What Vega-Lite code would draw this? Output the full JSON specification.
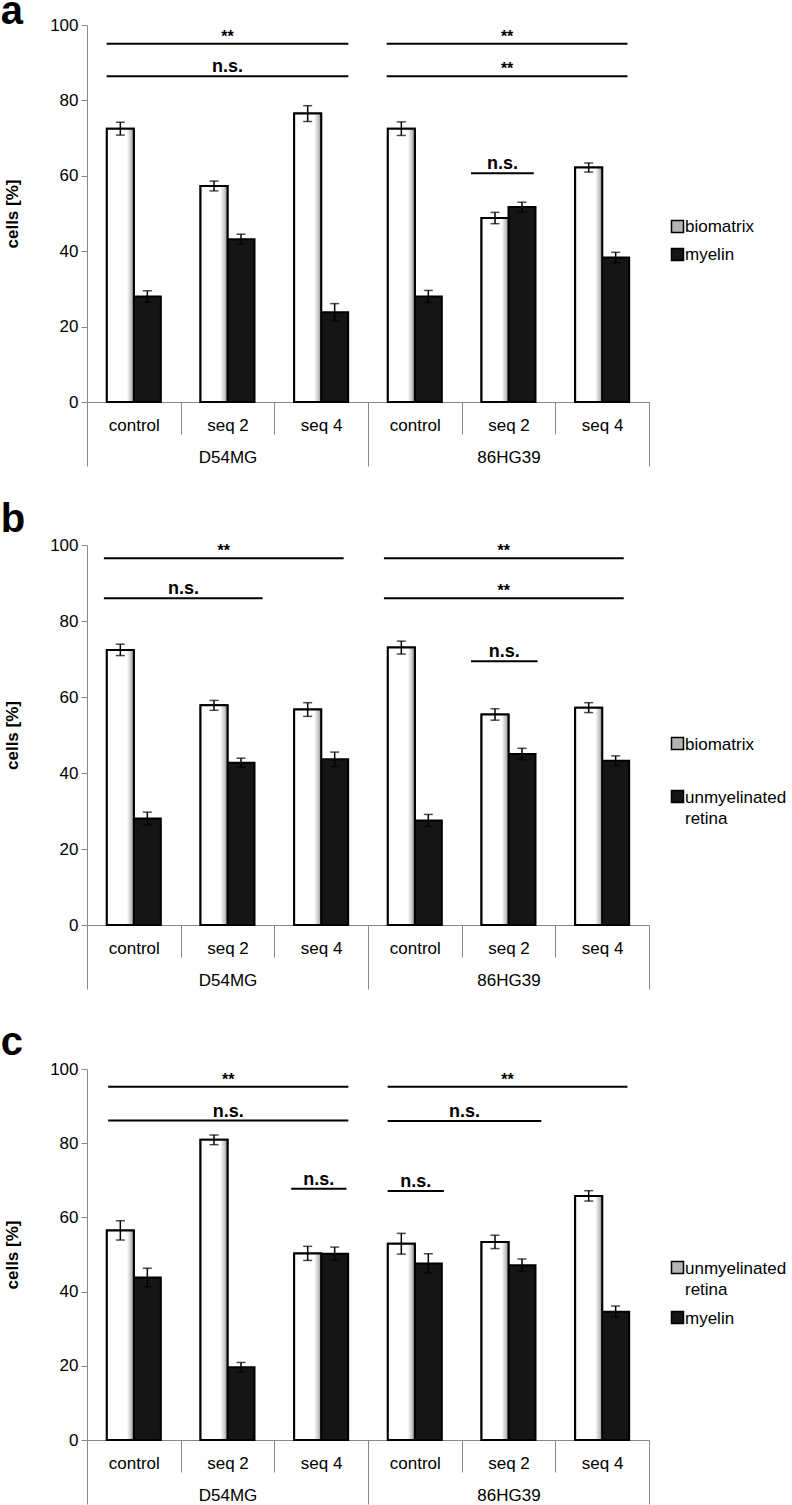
{
  "$schema": "https://vega.github.io/schema/vega-lite/v6.json",
  "padding": {"left": 0, "top": -8, "right": 0, "bottom": 0},
  "spacing": 33,
  "datasets": {
    "barsA": [
      {"cat": "D54MG|control", "series": "biomatrix", "value": 72.5, "lo": 70.8, "hi": 74.2},
      {"cat": "D54MG|control", "series": "myelin", "value": 28.0, "lo": 26.5, "hi": 29.5},
      {"cat": "D54MG|seq 2", "series": "biomatrix", "value": 57.3, "lo": 56.0, "hi": 58.6},
      {"cat": "D54MG|seq 2", "series": "myelin", "value": 43.2, "lo": 41.9, "hi": 44.5},
      {"cat": "D54MG|seq 4", "series": "biomatrix", "value": 76.5, "lo": 74.4, "hi": 78.6},
      {"cat": "D54MG|seq 4", "series": "myelin", "value": 23.8, "lo": 21.5, "hi": 26.1},
      {"cat": "86HG39|control", "series": "biomatrix", "value": 72.5, "lo": 70.7, "hi": 74.3},
      {"cat": "86HG39|control", "series": "myelin", "value": 28.0, "lo": 26.4, "hi": 29.6},
      {"cat": "86HG39|seq 2", "series": "biomatrix", "value": 48.8, "lo": 47.3, "hi": 50.3},
      {"cat": "86HG39|seq 2", "series": "myelin", "value": 51.7, "lo": 50.4, "hi": 53.0},
      {"cat": "86HG39|seq 4", "series": "biomatrix", "value": 62.2, "lo": 61.0, "hi": 63.4},
      {"cat": "86HG39|seq 4", "series": "myelin", "value": 38.3, "lo": 36.9, "hi": 39.7}
    ],
    "barsB": [
      {"cat": "D54MG|control", "series": "biomatrix", "value": 72.4, "lo": 70.9, "hi": 73.9},
      {"cat": "D54MG|control", "series": "unmyelinated retina", "value": 28.0, "lo": 26.3, "hi": 29.7},
      {"cat": "D54MG|seq 2", "series": "biomatrix", "value": 57.8, "lo": 56.5, "hi": 59.1},
      {"cat": "D54MG|seq 2", "series": "unmyelinated retina", "value": 42.7, "lo": 41.5, "hi": 43.9},
      {"cat": "D54MG|seq 4", "series": "biomatrix", "value": 56.7, "lo": 54.9, "hi": 58.5},
      {"cat": "D54MG|seq 4", "series": "unmyelinated retina", "value": 43.6, "lo": 41.7, "hi": 45.5},
      {"cat": "86HG39|control", "series": "biomatrix", "value": 73.0, "lo": 71.3, "hi": 74.7},
      {"cat": "86HG39|control", "series": "unmyelinated retina", "value": 27.5, "lo": 25.9, "hi": 29.1},
      {"cat": "86HG39|seq 2", "series": "biomatrix", "value": 55.4, "lo": 53.9, "hi": 56.9},
      {"cat": "86HG39|seq 2", "series": "unmyelinated retina", "value": 45.0, "lo": 43.5, "hi": 46.5},
      {"cat": "86HG39|seq 4", "series": "biomatrix", "value": 57.2, "lo": 55.9, "hi": 58.5},
      {"cat": "86HG39|seq 4", "series": "unmyelinated retina", "value": 43.2, "lo": 41.9, "hi": 44.5}
    ],
    "barsC": [
      {"cat": "D54MG|control", "series": "unmyelinated retina", "value": 56.5, "lo": 53.9, "hi": 59.1},
      {"cat": "D54MG|control", "series": "myelin", "value": 43.8, "lo": 41.3, "hi": 46.3},
      {"cat": "D54MG|seq 2", "series": "unmyelinated retina", "value": 80.9, "lo": 79.6, "hi": 82.2},
      {"cat": "D54MG|seq 2", "series": "myelin", "value": 19.6, "lo": 18.3, "hi": 20.9},
      {"cat": "D54MG|seq 4", "series": "unmyelinated retina", "value": 50.3, "lo": 48.4, "hi": 52.2},
      {"cat": "D54MG|seq 4", "series": "myelin", "value": 50.2, "lo": 48.4, "hi": 52.0},
      {"cat": "86HG39|control", "series": "unmyelinated retina", "value": 52.9, "lo": 50.1, "hi": 55.7},
      {"cat": "86HG39|control", "series": "myelin", "value": 47.6, "lo": 45.0, "hi": 50.2},
      {"cat": "86HG39|seq 2", "series": "unmyelinated retina", "value": 53.4, "lo": 51.6, "hi": 55.2},
      {"cat": "86HG39|seq 2", "series": "myelin", "value": 47.1, "lo": 45.4, "hi": 48.8},
      {"cat": "86HG39|seq 4", "series": "unmyelinated retina", "value": 65.8, "lo": 64.4, "hi": 67.2},
      {"cat": "86HG39|seq 4", "series": "myelin", "value": 34.6, "lo": 33.1, "hi": 36.1}
    ],
    "annA": [
      {"x1": 0.21, "x2": 2.79, "xm": 1.5, "y": 95.0, "label": "**"},
      {"x1": 0.21, "x2": 2.79, "xm": 1.5, "y": 86.4, "label": "n.s."},
      {"x1": 3.2, "x2": 5.77, "xm": 4.485, "y": 95.0, "label": "**"},
      {"x1": 3.2, "x2": 5.77, "xm": 4.485, "y": 86.4, "label": "**"},
      {"x1": 4.1, "x2": 4.77, "xm": 4.435, "y": 60.7, "label": "n.s."}
    ],
    "annB": [
      {"x1": 0.18, "x2": 2.74, "xm": 1.46, "y": 96.5, "label": "**"},
      {"x1": 0.18, "x2": 1.875, "xm": 1.03, "y": 86.0, "label": "n.s."},
      {"x1": 3.17, "x2": 5.73, "xm": 4.45, "y": 96.5, "label": "**"},
      {"x1": 3.17, "x2": 5.73, "xm": 4.45, "y": 86.0, "label": "**"},
      {"x1": 4.1, "x2": 4.81, "xm": 4.455, "y": 69.4, "label": "n.s."}
    ],
    "annC": [
      {"x1": 0.226, "x2": 2.79, "xm": 1.508, "y": 95.2, "label": "**"},
      {"x1": 0.226, "x2": 2.79, "xm": 1.508, "y": 86.1, "label": "n.s."},
      {"x1": 2.18, "x2": 2.77, "xm": 2.475, "y": 67.7, "label": "n.s."},
      {"x1": 3.21, "x2": 5.77, "xm": 4.49, "y": 95.2, "label": "**"},
      {"x1": 3.21, "x2": 4.85, "xm": 4.03, "y": 86.0, "label": "n.s."},
      {"x1": 3.21, "x2": 3.81, "xm": 3.51, "y": 67.1, "label": "n.s."}
    ],
    "groups": [
      {"group": "D54MG"},
      {"group": "86HG39"}
    ]
  },
  "vconcat": [
    {
      "title": {"text": "a", "anchor": "start", "frame": "bounds", "fontSize": 40, "fontWeight": "bold", "color": "black", "offset": -16, "dx": -3},
      "width": 562,
      "height": 377,
      "layer": [
        {
          "data": {"name": "barsA"},
          "mark": {"type": "bar", "stroke": "black", "strokeWidth": 2},
          "encoding": {
            "x": {"field": "cat", "type": "nominal", "title": null, "scale": {"domain": ["D54MG|control", "D54MG|seq 2", "D54MG|seq 4", "86HG39|control", "86HG39|seq 2", "86HG39|seq 4"], "paddingInner": 0, "paddingOuter": 0}, "axis": {"orient": "bottom", "labelExpr": "split(datum.label, '|')[1]", "tickBand": "extent", "tickSize": 32, "labelPadding": -17}},
            "xOffset": {"field": "series", "type": "nominal", "scale": {"domain": ["biomatrix", "myelin"], "paddingInner": 0, "paddingOuter": 0.735}},
            "y": {"field": "value", "type": "quantitative", "title": "cells [%]", "scale": {"domain": [0, 100], "nice": false}, "axis": {"orient": "left", "values": [0, 10, 20, 30, 40, 50, 60, 70, 80, 90, 100], "tickCount": 10, "labelOverlap": false}},
            "fill": {"field": "series", "type": "nominal", "scale": {"domain": ["biomatrix", "myelin"], "range": ["#b4b4b4", "#151515"]}, "legend": {"title": null, "orient": "none", "legendX": 582, "legendY": 193, "rowPadding": 9, "labelBaseline": "middle"}}
          }
        },
        {
          "data": {"name": "barsA"},
          "transform": [{"filter": "datum.series === 'biomatrix'"}],
          "mark": {"type": "bar", "stroke": "black", "strokeWidth": 2, "fill": {"gradient": "linear", "x1": 0, "y1": 0, "x2": 1, "y2": 0, "stops": [{"offset": 0, "color": "#ffffff"}, {"offset": 0.74, "color": "#ffffff"}, {"offset": 0.9, "color": "#c4c4c4"}, {"offset": 1, "color": "#8a8a8a"}]}},
          "encoding": {
            "x": {"field": "cat", "type": "nominal", "scale": {"domain": ["D54MG|control", "D54MG|seq 2", "D54MG|seq 4", "86HG39|control", "86HG39|seq 2", "86HG39|seq 4"], "paddingInner": 0, "paddingOuter": 0}, "axis": null},
            "xOffset": {"field": "series", "type": "nominal", "scale": {"domain": ["biomatrix", "myelin"], "paddingInner": 0, "paddingOuter": 0.735}},
            "y": {"field": "value", "type": "quantitative", "axis": null}
          }
        },
        {
          "data": {"name": "barsA"},
          "mark": {"type": "rule", "color": "black", "strokeWidth": 1.5},
          "encoding": {
            "x": {"field": "cat", "type": "nominal", "scale": {"domain": ["D54MG|control", "D54MG|seq 2", "D54MG|seq 4", "86HG39|control", "86HG39|seq 2", "86HG39|seq 4"], "paddingInner": 0, "paddingOuter": 0}, "axis": null},
            "xOffset": {"field": "series", "type": "nominal", "scale": {"domain": ["biomatrix", "myelin"], "paddingInner": 0, "paddingOuter": 0.735}},
            "y": {"field": "lo", "type": "quantitative", "axis": null},
            "y2": {"field": "hi"}
          }
        },
        {
          "data": {"name": "barsA"},
          "mark": {"type": "tick", "color": "black", "thickness": 1.5, "size": 9, "orient": "horizontal"},
          "encoding": {
            "x": {"field": "cat", "type": "nominal", "scale": {"domain": ["D54MG|control", "D54MG|seq 2", "D54MG|seq 4", "86HG39|control", "86HG39|seq 2", "86HG39|seq 4"], "paddingInner": 0, "paddingOuter": 0}, "axis": null},
            "xOffset": {"field": "series", "type": "nominal", "scale": {"domain": ["biomatrix", "myelin"], "paddingInner": 0, "paddingOuter": 0.735}},
            "y": {"field": "hi", "type": "quantitative", "axis": null}
          }
        },
        {
          "data": {"name": "barsA"},
          "mark": {"type": "tick", "color": "black", "thickness": 1.5, "size": 9, "orient": "horizontal"},
          "encoding": {
            "x": {"field": "cat", "type": "nominal", "scale": {"domain": ["D54MG|control", "D54MG|seq 2", "D54MG|seq 4", "86HG39|control", "86HG39|seq 2", "86HG39|seq 4"], "paddingInner": 0, "paddingOuter": 0}, "axis": null},
            "xOffset": {"field": "series", "type": "nominal", "scale": {"domain": ["biomatrix", "myelin"], "paddingInner": 0, "paddingOuter": 0.735}},
            "y": {"field": "lo", "type": "quantitative", "axis": null}
          }
        },
        {
          "data": {"name": "annA"},
          "mark": {"type": "rule", "color": "black", "strokeWidth": 2},
          "encoding": {
            "x": {"field": "x1", "type": "quantitative", "scale": {"domain": [0, 6], "nice": false, "zero": false}, "axis": null},
            "x2": {"field": "x2"},
            "y": {"field": "y", "type": "quantitative", "axis": null}
          }
        },
        {
          "data": {"name": "annA"},
          "transform": [{"filter": "datum.label === '**'"}],
          "mark": {"type": "text", "fontSize": 16, "fontWeight": "bold", "color": "black", "baseline": "alphabetic", "dy": -2},
          "encoding": {
            "x": {"field": "xm", "type": "quantitative", "scale": {"domain": [0, 6], "nice": false, "zero": false}, "axis": null},
            "y": {"field": "y", "type": "quantitative", "axis": null},
            "text": {"field": "label"}
          }
        },
        {
          "data": {"name": "annA"},
          "transform": [{"filter": "datum.label === 'n.s.'"}],
          "mark": {"type": "text", "fontSize": 18, "fontWeight": "bold", "color": "black", "baseline": "alphabetic", "dy": -4},
          "encoding": {
            "x": {"field": "xm", "type": "quantitative", "scale": {"domain": [0, 6], "nice": false, "zero": false}, "axis": null},
            "y": {"field": "y", "type": "quantitative", "axis": null},
            "text": {"field": "label"}
          }
        },
        {
          "data": {"name": "groups"},
          "mark": {"type": "text"},
          "encoding": {
            "x": {"field": "group", "type": "nominal", "title": null, "scale": {"domain": ["D54MG", "86HG39"], "paddingInner": 0, "paddingOuter": 0}, "axis": {"orient": "bottom", "tickBand": "extent", "tickSize": 64, "labelPadding": -17, "domain": false}},
            "text": {"value": ""}
          }
        }
      ],
      "resolve": {"scale": {"x": "independent", "xOffset": "independent"}, "axis": {"y": "independent"}}
    },
    {
      "title": {"text": "b", "anchor": "start", "frame": "bounds", "fontSize": 40, "fontWeight": "bold", "color": "black", "offset": -4, "dx": -3},
      "width": 562,
      "height": 380,
      "layer": [
        {
          "data": {"name": "barsB"},
          "mark": {"type": "bar", "stroke": "black", "strokeWidth": 2},
          "encoding": {
            "x": {"field": "cat", "type": "nominal", "title": null, "scale": {"domain": ["D54MG|control", "D54MG|seq 2", "D54MG|seq 4", "86HG39|control", "86HG39|seq 2", "86HG39|seq 4"], "paddingInner": 0, "paddingOuter": 0}, "axis": {"orient": "bottom", "labelExpr": "split(datum.label, '|')[1]", "tickBand": "extent", "tickSize": 32, "labelPadding": -17}},
            "xOffset": {"field": "series", "type": "nominal", "scale": {"domain": ["biomatrix", "unmyelinated retina"], "paddingInner": 0, "paddingOuter": 0.735}},
            "y": {"field": "value", "type": "quantitative", "title": "cells [%]", "scale": {"domain": [0, 100], "nice": false}, "axis": {"orient": "left", "values": [0, 10, 20, 30, 40, 50, 60, 70, 80, 90, 100], "tickCount": 10, "labelOverlap": false}},
            "fill": {"field": "series", "type": "nominal", "scale": {"domain": ["biomatrix", "unmyelinated retina"], "range": ["#b4b4b4", "#151515"]}, "legend": {"title": null, "orient": "none", "legendX": 582, "legendY": 190, "rowPadding": 34, "labelExpr": "datum.label === 'unmyelinated retina' ? ['unmyelinated', 'retina'] : datum.label", "encode": {"labels": {"update": {"dy": {"value": -7}, "lineHeight": {"value": 21}}}}}}
          }
        },
        {
          "data": {"name": "barsB"},
          "transform": [{"filter": "datum.series === 'biomatrix'"}],
          "mark": {"type": "bar", "stroke": "black", "strokeWidth": 2, "fill": {"gradient": "linear", "x1": 0, "y1": 0, "x2": 1, "y2": 0, "stops": [{"offset": 0, "color": "#ffffff"}, {"offset": 0.74, "color": "#ffffff"}, {"offset": 0.9, "color": "#c4c4c4"}, {"offset": 1, "color": "#8a8a8a"}]}},
          "encoding": {
            "x": {"field": "cat", "type": "nominal", "scale": {"domain": ["D54MG|control", "D54MG|seq 2", "D54MG|seq 4", "86HG39|control", "86HG39|seq 2", "86HG39|seq 4"], "paddingInner": 0, "paddingOuter": 0}, "axis": null},
            "xOffset": {"field": "series", "type": "nominal", "scale": {"domain": ["biomatrix", "unmyelinated retina"], "paddingInner": 0, "paddingOuter": 0.735}},
            "y": {"field": "value", "type": "quantitative", "axis": null}
          }
        },
        {
          "data": {"name": "barsB"},
          "mark": {"type": "rule", "color": "black", "strokeWidth": 1.5},
          "encoding": {
            "x": {"field": "cat", "type": "nominal", "scale": {"domain": ["D54MG|control", "D54MG|seq 2", "D54MG|seq 4", "86HG39|control", "86HG39|seq 2", "86HG39|seq 4"], "paddingInner": 0, "paddingOuter": 0}, "axis": null},
            "xOffset": {"field": "series", "type": "nominal", "scale": {"domain": ["biomatrix", "unmyelinated retina"], "paddingInner": 0, "paddingOuter": 0.735}},
            "y": {"field": "lo", "type": "quantitative", "axis": null},
            "y2": {"field": "hi"}
          }
        },
        {
          "data": {"name": "barsB"},
          "mark": {"type": "tick", "color": "black", "thickness": 1.5, "size": 9, "orient": "horizontal"},
          "encoding": {
            "x": {"field": "cat", "type": "nominal", "scale": {"domain": ["D54MG|control", "D54MG|seq 2", "D54MG|seq 4", "86HG39|control", "86HG39|seq 2", "86HG39|seq 4"], "paddingInner": 0, "paddingOuter": 0}, "axis": null},
            "xOffset": {"field": "series", "type": "nominal", "scale": {"domain": ["biomatrix", "unmyelinated retina"], "paddingInner": 0, "paddingOuter": 0.735}},
            "y": {"field": "hi", "type": "quantitative", "axis": null}
          }
        },
        {
          "data": {"name": "barsB"},
          "mark": {"type": "tick", "color": "black", "thickness": 1.5, "size": 9, "orient": "horizontal"},
          "encoding": {
            "x": {"field": "cat", "type": "nominal", "scale": {"domain": ["D54MG|control", "D54MG|seq 2", "D54MG|seq 4", "86HG39|control", "86HG39|seq 2", "86HG39|seq 4"], "paddingInner": 0, "paddingOuter": 0}, "axis": null},
            "xOffset": {"field": "series", "type": "nominal", "scale": {"domain": ["biomatrix", "unmyelinated retina"], "paddingInner": 0, "paddingOuter": 0.735}},
            "y": {"field": "lo", "type": "quantitative", "axis": null}
          }
        },
        {
          "data": {"name": "annB"},
          "mark": {"type": "rule", "color": "black", "strokeWidth": 2},
          "encoding": {
            "x": {"field": "x1", "type": "quantitative", "scale": {"domain": [0, 6], "nice": false, "zero": false}, "axis": null},
            "x2": {"field": "x2"},
            "y": {"field": "y", "type": "quantitative", "axis": null}
          }
        },
        {
          "data": {"name": "annB"},
          "transform": [{"filter": "datum.label === '**'"}],
          "mark": {"type": "text", "fontSize": 16, "fontWeight": "bold", "color": "black", "baseline": "alphabetic", "dy": -2},
          "encoding": {
            "x": {"field": "xm", "type": "quantitative", "scale": {"domain": [0, 6], "nice": false, "zero": false}, "axis": null},
            "y": {"field": "y", "type": "quantitative", "axis": null},
            "text": {"field": "label"}
          }
        },
        {
          "data": {"name": "annB"},
          "transform": [{"filter": "datum.label === 'n.s.'"}],
          "mark": {"type": "text", "fontSize": 18, "fontWeight": "bold", "color": "black", "baseline": "alphabetic", "dy": -4},
          "encoding": {
            "x": {"field": "xm", "type": "quantitative", "scale": {"domain": [0, 6], "nice": false, "zero": false}, "axis": null},
            "y": {"field": "y", "type": "quantitative", "axis": null},
            "text": {"field": "label"}
          }
        },
        {
          "data": {"name": "groups"},
          "mark": {"type": "text"},
          "encoding": {
            "x": {"field": "group", "type": "nominal", "title": null, "scale": {"domain": ["D54MG", "86HG39"], "paddingInner": 0, "paddingOuter": 0}, "axis": {"orient": "bottom", "tickBand": "extent", "tickSize": 64, "labelPadding": -17, "domain": false}},
            "text": {"value": ""}
          }
        }
      ],
      "resolve": {"scale": {"x": "independent", "xOffset": "independent"}, "axis": {"y": "independent"}}
    },
    {
      "title": {"text": "c", "anchor": "start", "frame": "bounds", "fontSize": 40, "fontWeight": "bold", "color": "black", "offset": -3, "dx": -3},
      "width": 562,
      "height": 371,
      "layer": [
        {
          "data": {"name": "barsC"},
          "mark": {"type": "bar", "stroke": "black", "strokeWidth": 2},
          "encoding": {
            "x": {"field": "cat", "type": "nominal", "title": null, "scale": {"domain": ["D54MG|control", "D54MG|seq 2", "D54MG|seq 4", "86HG39|control", "86HG39|seq 2", "86HG39|seq 4"], "paddingInner": 0, "paddingOuter": 0}, "axis": {"orient": "bottom", "labelExpr": "split(datum.label, '|')[1]", "tickBand": "extent", "tickSize": 32, "labelPadding": -17}},
            "xOffset": {"field": "series", "type": "nominal", "scale": {"domain": ["unmyelinated retina", "myelin"], "paddingInner": 0, "paddingOuter": 0.735}},
            "y": {"field": "value", "type": "quantitative", "title": "cells [%]", "scale": {"domain": [0, 100], "nice": false}, "axis": {"orient": "left", "values": [0, 10, 20, 30, 40, 50, 60, 70, 80, 90, 100], "tickCount": 10, "labelOverlap": false}},
            "fill": {"field": "series", "type": "nominal", "scale": {"domain": ["unmyelinated retina", "myelin"], "range": ["#b4b4b4", "#151515"]}, "legend": {"title": null, "orient": "none", "legendX": 582, "legendY": 190, "rowPadding": 10, "labelExpr": "datum.label === 'unmyelinated retina' ? ['unmyelinated', 'retina'] : datum.label", "encode": {"labels": {"update": {"dy": {"value": -7}, "lineHeight": {"value": 21}}}}}}
          }
        },
        {
          "data": {"name": "barsC"},
          "transform": [{"filter": "datum.series === 'unmyelinated retina'"}],
          "mark": {"type": "bar", "stroke": "black", "strokeWidth": 2, "fill": {"gradient": "linear", "x1": 0, "y1": 0, "x2": 1, "y2": 0, "stops": [{"offset": 0, "color": "#ffffff"}, {"offset": 0.74, "color": "#ffffff"}, {"offset": 0.9, "color": "#c4c4c4"}, {"offset": 1, "color": "#8a8a8a"}]}},
          "encoding": {
            "x": {"field": "cat", "type": "nominal", "scale": {"domain": ["D54MG|control", "D54MG|seq 2", "D54MG|seq 4", "86HG39|control", "86HG39|seq 2", "86HG39|seq 4"], "paddingInner": 0, "paddingOuter": 0}, "axis": null},
            "xOffset": {"field": "series", "type": "nominal", "scale": {"domain": ["unmyelinated retina", "myelin"], "paddingInner": 0, "paddingOuter": 0.735}},
            "y": {"field": "value", "type": "quantitative", "axis": null}
          }
        },
        {
          "data": {"name": "barsC"},
          "mark": {"type": "rule", "color": "black", "strokeWidth": 1.5},
          "encoding": {
            "x": {"field": "cat", "type": "nominal", "scale": {"domain": ["D54MG|control", "D54MG|seq 2", "D54MG|seq 4", "86HG39|control", "86HG39|seq 2", "86HG39|seq 4"], "paddingInner": 0, "paddingOuter": 0}, "axis": null},
            "xOffset": {"field": "series", "type": "nominal", "scale": {"domain": ["unmyelinated retina", "myelin"], "paddingInner": 0, "paddingOuter": 0.735}},
            "y": {"field": "lo", "type": "quantitative", "axis": null},
            "y2": {"field": "hi"}
          }
        },
        {
          "data": {"name": "barsC"},
          "mark": {"type": "tick", "color": "black", "thickness": 1.5, "size": 9, "orient": "horizontal"},
          "encoding": {
            "x": {"field": "cat", "type": "nominal", "scale": {"domain": ["D54MG|control", "D54MG|seq 2", "D54MG|seq 4", "86HG39|control", "86HG39|seq 2", "86HG39|seq 4"], "paddingInner": 0, "paddingOuter": 0}, "axis": null},
            "xOffset": {"field": "series", "type": "nominal", "scale": {"domain": ["unmyelinated retina", "myelin"], "paddingInner": 0, "paddingOuter": 0.735}},
            "y": {"field": "hi", "type": "quantitative", "axis": null}
          }
        },
        {
          "data": {"name": "barsC"},
          "mark": {"type": "tick", "color": "black", "thickness": 1.5, "size": 9, "orient": "horizontal"},
          "encoding": {
            "x": {"field": "cat", "type": "nominal", "scale": {"domain": ["D54MG|control", "D54MG|seq 2", "D54MG|seq 4", "86HG39|control", "86HG39|seq 2", "86HG39|seq 4"], "paddingInner": 0, "paddingOuter": 0}, "axis": null},
            "xOffset": {"field": "series", "type": "nominal", "scale": {"domain": ["unmyelinated retina", "myelin"], "paddingInner": 0, "paddingOuter": 0.735}},
            "y": {"field": "lo", "type": "quantitative", "axis": null}
          }
        },
        {
          "data": {"name": "annC"},
          "mark": {"type": "rule", "color": "black", "strokeWidth": 2},
          "encoding": {
            "x": {"field": "x1", "type": "quantitative", "scale": {"domain": [0, 6], "nice": false, "zero": false}, "axis": null},
            "x2": {"field": "x2"},
            "y": {"field": "y", "type": "quantitative", "axis": null}
          }
        },
        {
          "data": {"name": "annC"},
          "transform": [{"filter": "datum.label === '**'"}],
          "mark": {"type": "text", "fontSize": 16, "fontWeight": "bold", "color": "black", "baseline": "alphabetic", "dy": -2},
          "encoding": {
            "x": {"field": "xm", "type": "quantitative", "scale": {"domain": [0, 6], "nice": false, "zero": false}, "axis": null},
            "y": {"field": "y", "type": "quantitative", "axis": null},
            "text": {"field": "label"}
          }
        },
        {
          "data": {"name": "annC"},
          "transform": [{"filter": "datum.label === 'n.s.'"}],
          "mark": {"type": "text", "fontSize": 18, "fontWeight": "bold", "color": "black", "baseline": "alphabetic", "dy": -4},
          "encoding": {
            "x": {"field": "xm", "type": "quantitative", "scale": {"domain": [0, 6], "nice": false, "zero": false}, "axis": null},
            "y": {"field": "y", "type": "quantitative", "axis": null},
            "text": {"field": "label"}
          }
        },
        {
          "data": {"name": "groups"},
          "mark": {"type": "text"},
          "encoding": {
            "x": {"field": "group", "type": "nominal", "title": null, "scale": {"domain": ["D54MG", "86HG39"], "paddingInner": 0, "paddingOuter": 0}, "axis": {"orient": "bottom", "tickBand": "extent", "tickSize": 64, "labelPadding": -17, "domain": false}},
            "text": {"value": ""}
          }
        }
      ],
      "resolve": {"scale": {"x": "independent", "xOffset": "independent"}, "axis": {"y": "independent"}}
    }
  ],
  "resolve": {"scale": {"x": "independent", "y": "independent", "xOffset": "independent", "fill": "independent"}},
  "config": {
    "font": "Liberation Sans",
    "view": {"stroke": null},
    "title": {"font": "Liberation Sans"},
    "axis": {"labelFont": "Liberation Sans", "labelFontSize": 17, "labelColor": "black", "tickColor": "#888888", "domainColor": "#888888", "grid": false, "labelAngle": 0, "titleFont": "Liberation Sans", "titleFontSize": 17, "titleFontWeight": "bold", "titleColor": "black"},
    "axisY": {"tickSize": 6, "labelPadding": 3, "titlePadding": 28, "tickCount": 10, "labelOverlap": false},
    "legend": {"labelFont": "Liberation Sans", "labelFontSize": 17, "labelColor": "black", "symbolType": "square", "symbolSize": 144, "symbolStrokeColor": "black", "symbolStrokeWidth": 1.5, "labelOffset": -1, "labelLimit": 0, "padding": 0, "labelBaseline": "top", "symbolOpacity": 1},
    "text": {"font": "Liberation Sans"}
  }
}
